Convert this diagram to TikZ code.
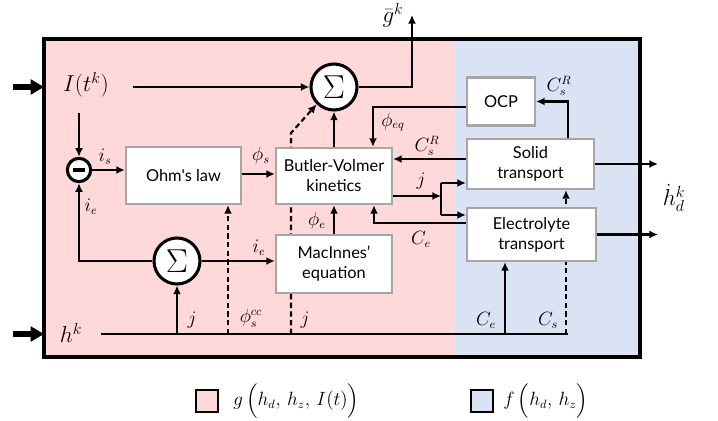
\documentclass[tikz,border=0pt]{standalone}
\usepackage{amsmath}
\usepackage{fontspec}
\setsansfont{Lato}[Ligatures=TeXOff]
\usetikzlibrary{arrows.meta,backgrounds}
\definecolor{gpink}{HTML}{FFD9D9}
\definecolor{fblue}{HTML}{DAE3F3}
\definecolor{boxgray}{HTML}{A6A6A6}
\begin{document}
\begin{tikzpicture}[x=0.75pt,y=-0.75pt,
  blk/.style={draw=boxgray,line width=1.6pt,fill=white,align=center,inner sep=1pt,font=\sffamily\fontsize{12.3}{15}\selectfont},
  sumc/.style={circle,draw=black,line width=2.3pt,fill=white,minimum size=34.5pt,inner sep=0pt,font=\fontsize{26}{26}\selectfont},
  arr/.style={line width=1.6pt,-{Latex[length=6.5pt,width=6pt]}},
  ln/.style={line width=1.6pt},
  dsh/.style={dash pattern=on 4pt off 2.5pt},
  lbl/.style={inner sep=0pt,font=\fontsize{13.5}{15}\selectfont},
  bigl/.style={inner sep=0pt,font=\fontsize{16.5}{18}\selectfont},
  inarr/.style={line width=3.8pt,-{Triangle[length=10pt,width=11pt]}},
  leg/.style={draw=black,line width=1.6pt,minimum size=16.5pt,inner sep=0pt}
]
\useasboundingbox (0,0) rectangle (718,421);

% frame
\draw[line width=2.4pt] (44,39) rectangle (640,357);

% blocks
\node[blk,minimum width=86.25pt,minimum height=42.75pt] (ohm) at (183.5,175.5) {Ohm's law};
\node[blk,minimum width=87pt,minimum height=42pt] (bv) at (334,176) {Butler-Volmer\\kinetics};
\node[blk,minimum width=87pt,minimum height=43.5pt] (mac) at (334,264) {MacInnes’\\equation};
\node[blk,minimum width=51pt,minimum height=36pt] (ocp) at (501,101.5) {OCP};
\node[blk,minimum width=95.25pt,minimum height=37.5pt] (so) at (530.5,164) {Solid\\transport};
\node[blk,minimum width=96.75pt,minimum height=39.75pt] (el) at (531.5,234.5) {Electrolyte\\transport};

% summing junctions
\node[sumc] (s1) at (334,87) {$\Sigma$};
\node[sumc] (s2) at (177,261) {$\Sigma$};
\node[circle,draw=black,line width=2.3pt,fill=white,minimum size=17.5pt,inner sep=0pt] (mn) at (79,170) {\rule{9.5pt}{2.6pt}};

% coordinates
\coordinate (iA) at (13,87);
\coordinate (iB) at (44,87);
\coordinate (hA) at (13,334);
\coordinate (hB) at (44,334);
\coordinate (Is) at (133,87);
\coordinate (Id) at (79,113);
\coordinate (gk) at (412,15);
\coordinate (hs) at (101,334);
\coordinate (he) at (568,334);
\coordinate (hj) at (177,334);
\coordinate (hphi) at (228,334);
\coordinate (hj2) at (291,334);
\coordinate (bend) at (291,133);
\coordinate (hce) at (505,334);
\coordinate (hcs) at (566,334);
\coordinate (jx) at (441,196);
\coordinate (jt) at (441,183);
\coordinate (jb) at (441,215);

% inputs
\draw[inarr] (iA) -- (iB);
\draw[inarr] (hA) -- (hB);

% connectors
\draw[arr] (Is) -- (s1.west);
\draw[arr] (Id) -- (mn.north);
\draw[arr] (mn.east) -- (mn.east -| ohm.west);
\draw[arr] (ohm.east |- 0,174) -- (bv.west |- 0,174);
\draw[arr] (bv.north) -- (s1.south);
\draw[arr] (s1.east) -| (gk);
\draw[arr] (mac.north) -- (bv.south);
\draw[arr] (hj) -- (s2.south);
\draw[arr] (s2.west) -| (mn.south);
\draw[arr] (s2.east) -- (s2.east -| mac.west);
\draw[ln] (hs) -- (he);
\draw[arr] (hce) -- (hce |- el.south);
\draw[arr] (so.north -| 568,0) |- (ocp.east);
\draw[arr] (ocp.west |- 0,107) -| (373,0 |- bv.north);
\draw[arr] (so.west |- 0,159) -- (bv.east |- 0,159);
\draw[arr] (bv.east |- 0,196) -- (jx);
\draw[ln] (jt) -- (jb);
\draw[arr] (jt) -- (jt -| so.west);
\draw[arr] (jb) -- (jb -| el.west);
\draw[arr] (el.west |- 0,223) -| (374,0 |- bv.south);
\draw[arr] (so.east) -- (so.east -| 658,0);
\draw[arr] (el.east) -- (el.east -| 658,0);

% background: fills and hidden dashed lines
\begin{scope}[on background layer]
  \fill[gpink] (44,39) rectangle (454,357);
  \fill[fblue] (454,39) rectangle (640,357);
  \draw[arr,dsh] (hphi) -- (hphi |- ohm.south);
  \draw[arr,dsh] (hj2) -- (bend) -- (s1.south west);
  \draw[arr,dsh] (hcs) -- (hcs |- so.south);
\end{scope}

% labels
\node[bigl] (lI) at (86,85) {$I(t^k)$};
\node[bigl] (lh) at (71,333) {$h^k$};
\node[bigl] (lg) at (393,15) {$\bar{g}^k$};
\node[bigl] (lhd) at (674,198) {$\dot{h}_d^k$};
\node[lbl] (lis) at (105,157) {$i_s$};
\node[lbl] (lphis) at (261,156) {$\phi_s$};
\node[lbl] (lie1) at (91,207) {$i_e$};
\node[lbl] (lie2) at (259,248) {$i_e$};
\node[lbl] (lphie) at (317,221) {$\phi_e$};
\node[lbl] (lj1) at (192,320) {$j$};
\node[lbl] (lphicc) at (251,318) {$\phi_s^{cc}$};
\node[lbl] (lj2) at (305,320) {$j$};
\node[lbl] (lphieq) at (393,122) {$\phi_{eq}$};
\node[lbl] (lcsr1) at (427,146) {$C_s^R$};
\node[lbl] (lj3) at (421,181) {$j$};
\node[lbl] (lce1) at (421,239) {$C_e$};
\node[lbl] (lcsr2) at (559,86) {$C_s^R$};
\node[lbl] (lce2) at (486,320) {$C_e$};
\node[lbl] (lcs) at (548,320) {$C_s$};

% legend
\node[leg,fill=gpink] (lgp) at (207,401) {};
\node[lbl,anchor=west] (lgpt) at (233,401) {$g\,\Bigl(h_d,\, h_z,\, I(t)\Bigr)$};
\node[leg,fill=fblue] (lgb) at (482,401) {};
\node[lbl,anchor=west] (lgbt) at (503,401) {$f\,\Bigl(h_d,\, h_z\Bigr)$};
\end{tikzpicture}
\end{document}
